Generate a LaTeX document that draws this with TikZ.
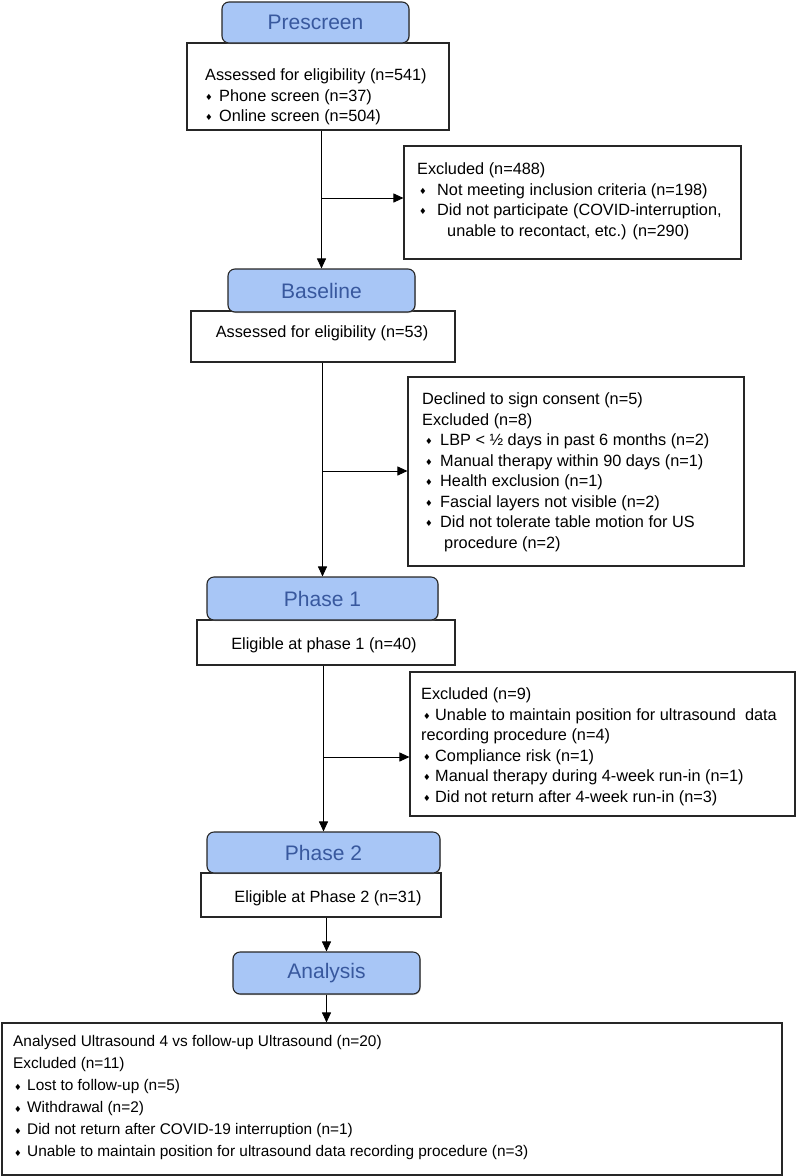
\documentclass[tikz,border=0pt]{standalone}
\usepackage{fontspec}
\setmainfont{Liberation Sans}
\newfontfamily\dv{DejaVu Sans}
\usetikzlibrary{arrows.meta,shadows,calc}
\definecolor{hfill}{RGB}{168,198,246}
\definecolor{htext}{RGB}{56,88,158}
\newcommand{\bul}[2]{\hspace*{#1}\makebox[#2][l]{\raisebox{0.8pt}{\dv\fontsize{8.5}{8.5}\selectfont ♦}}}
\begin{document}
\begin{tikzpicture}[x=1pt,y=-1pt,
 hdr/.style={draw=black!85, line width=1.1pt, fill=hfill, rounded corners=7pt, text=htext,
   font=\fontsize{21}{25}\selectfont, inner sep=0pt,
   drop shadow={shadow xshift=0.6pt, shadow yshift=-1pt, opacity=0.5}},
 box/.style={draw=black!85, line width=1.1pt, fill=white, inner sep=0pt},
 txt/.style={inner sep=0pt, align=left, anchor=north west, font=\fontsize{16.3}{20.5}\selectfont},
 ctxt/.style={inner sep=0pt, font=\fontsize{16.3}{20.5}\selectfont},
 conn/.style={line width=0.9pt, draw=black},
 arr/.style={conn, -{Triangle[length=10pt,width=9pt]}}]
\useasboundingbox (0,0) rectangle (798,1176);

% boxes
\node[box, minimum width=262pt, minimum height=87pt] (b1) at (318,86.5) {};
\node[hdr, minimum width=187pt, minimum height=41pt] (h1) at (315.5,22.5) {Prescreen};
\node[box, minimum width=337pt, minimum height=113pt] (e1) at (572.5,202.5) {};

\node[box, minimum width=264pt, minimum height=51pt] (b2) at (323,336.5) {};
\node[hdr, minimum width=187pt, minimum height=43pt] (h2) at (321.5,290.5) {Baseline};
\node[box, minimum width=336pt, minimum height=189pt] (e2) at (576,471.5) {};

\node[box, minimum width=258pt, minimum height=45pt] (b3) at (326,642.5) {};
\node[hdr, minimum width=231pt, minimum height=43pt] (h3) at (322.5,598.5) {Phase 1};
\node[box, minimum width=385pt, minimum height=144pt] (e3) at (602.5,744) {};

\node[box, minimum width=240pt, minimum height=44pt] (b4) at (321,895) {};
\node[hdr, minimum width=233pt, minimum height=41pt] (h4) at (323.5,852.5) {Phase 2};

\node[hdr, minimum width=187pt, minimum height=42pt] (h5) at (326.5,973) {Analysis};
\node[box, minimum width=780pt, minimum height=152pt] (b5) at (392,1099) {};

% connectors
\draw[arr] (h2.north |- b1.south) -- (h2.north);
\coordinate (j1) at (321.5,198);
\draw[arr] (j1) -- (j1 -| e1.west);

\draw[arr] (h3.north |- b2.south) -- (h3.north);
\coordinate (j2) at (322.5,471);
\draw[arr] (j2) -- (j2 -| e2.west);

\draw[arr] (h4.north |- b3.south) -- (h4.north);
\coordinate (j3) at (323.5,757);
\draw[arr] (j3) -- (j3 -| e3.west);

\draw[arr] (h5.north |- b4.south) -- (h5.north);
\draw[arr] (h5.south) -- (h5.south |- b5.north);

% texts
\node[txt] (t1) at (205,68.5) {Assessed for eligibility (n=541)\\
\bul{0pt}{14pt}Phone screen (n=37)\\
\bul{0pt}{14pt}Online screen (n=504)};

\node[txt] (te1) at (417,162.5) {Excluded (n=488)\\
\bul{2pt}{18pt}Not meeting inclusion criteria (n=198)\\
\bul{2pt}{18pt}Did not participate (COVID-interruption,\\
\hspace*{30pt}unable to recontact, etc.) (n=290)};

\node[ctxt] (t2) at (322,333) {Assessed for eligibility (n=53)};

\node[txt] (te2) at (422,392.5) {Declined to sign consent (n=5)\\
Excluded (n=8)\\
\bul{3pt}{15pt}LBP < ½ days in past 6 months (n=2)\\
\bul{3pt}{15pt}Manual therapy within 90 days (n=1)\\
\bul{3pt}{15pt}Health exclusion (n=1)\\
\bul{3pt}{15pt}Fascial layers not visible (n=2)\\
\bul{3pt}{15pt}Did not tolerate table motion for US\\
\hspace*{22pt}procedure (n=2)};

\node[ctxt] (t3) at (324,645) {Eligible at phase 1 (n=40)};

\node[txt] (te3) at (421,687.5) {Excluded (n=9)\\
\bul{2pt}{12pt}Unable to maintain position for ultrasound\ \ data\\
recording procedure (n=4)\\
\bul{2pt}{12pt}Compliance risk (n=1)\\
\bul{2pt}{12pt}Manual therapy during 4-week run-in (n=1)\\
\bul{2pt}{12pt}Did not return after 4-week run-in (n=3)};

\node[ctxt] (t4) at (328,898) {Eligible at Phase 2 (n=31)};

\node[txt, font=\fontsize{15.4}{22}\selectfont] (t5) at (13,1035.5) {Analysed Ultrasound 4 vs follow-up Ultrasound (n=20)\\
Excluded (n=11)\\
\bul{1pt}{13pt}Lost to follow-up (n=5)\\
\bul{1pt}{13pt}Withdrawal (n=2)\\
\bul{1pt}{13pt}Did not return after COVID-19 interruption (n=1)\\
\bul{1pt}{13pt}Unable to maintain position for ultrasound data recording procedure (n=3)};
\end{tikzpicture}
\end{document}
